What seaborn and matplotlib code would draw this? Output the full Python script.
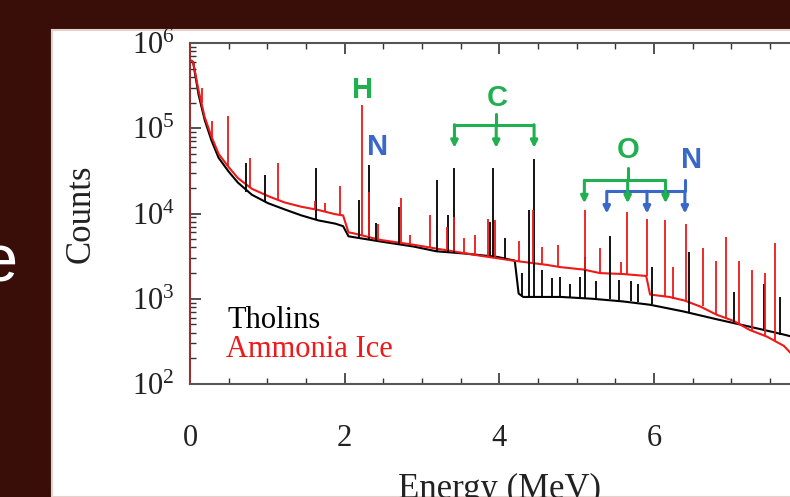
import pandas as pd
import matplotlib
matplotlib.use('Agg')
import matplotlib.pyplot as plt
import seaborn as sns
from matplotlib.patches import Rectangle
from matplotlib.ticker import LogLocator, MultipleLocator, NullFormatter

# continuum of each spectrum (energy in MeV, counts)
tholins_energy = [0.0, 0.04, 0.11, 0.19, 0.28, 0.37, 0.50, 0.62, 0.80, 1.01, 1.22, 1.44,
                  1.66, 1.88, 1.98, 2.05, 2.46, 2.89, 3.19, 3.54, 3.97, 4.20, 4.25, 4.31,
                  4.80, 5.20, 5.60, 5.95, 6.38, 6.81, 7.24, 7.68, 8.0]
tholins_counts = [630000, 600000, 250000, 125000, 71000, 45000, 31000, 23000, 16600, 13200,
                  11200, 9500, 8300, 7600, 7100, 5400, 4700, 4100, 3600, 3400, 3100, 2800,
                  1150, 1050, 1050, 1000, 930, 850, 710, 575, 470, 380, 320]

ammonia_energy = [0.0, 0.04, 0.11, 0.19, 0.28, 0.37, 0.50, 0.62, 0.80, 1.01, 1.22, 1.44,
                  1.66, 1.88, 1.98, 2.05, 2.10, 2.46, 2.89, 3.32, 3.75, 4.18, 4.61, 4.79,
                  5.09, 5.30, 5.60, 5.90, 5.95, 6.20, 6.40, 6.60, 6.81, 7.03, 7.24, 7.46,
                  7.68, 7.76, 8.0]
ammonia_counts = [630000, 600000, 280000, 135000, 79000, 50000, 35000, 26000, 19500, 16000,
                  13500, 12000, 11000, 9800, 9500, 6000, 5900, 4900, 4300, 3700, 3200, 2800,
                  2500, 2350, 2200, 2000, 1950, 1850, 1120, 1050, 950, 810, 650, 550, 430,
                  360, 280, 235, 180]

# gamma-ray peaks: energy, counts under the peak, counts at the top
tholins_peak_energy = [0.72, 0.97, 1.63, 2.18, 2.32, 2.41, 2.70, 3.20, 3.34, 3.42, 3.88,
                       3.92, 4.07, 4.29, 4.38, 4.45, 4.55, 4.68, 4.79, 4.92, 5.05, 5.11,
                       5.25, 5.43, 5.55, 5.70, 5.80, 5.97, 6.45, 7.03, 7.42, 7.63]
tholins_peak_base = [18000, 13500, 8500, 5200, 5000, 4900, 4400, 3600, 3500, 3450, 3150,
                     3100, 2950, 1050, 1050, 1050, 1050, 1050, 1050, 1050, 1000, 1000,
                     1000, 980, 960, 940, 920, 860, 700, 540, 430, 380]
tholins_peak_top = [39000, 28000, 34000, 14500, 37000, 7800, 12000, 24500, 9500, 34000,
                    8000, 34000, 5100, 2000, 11000, 43000, 2200, 1750, 1800, 1500, 1800,
                    3100, 1600, 5400, 1650, 1600, 1500, 2350, 3500, 1200, 1500, 1050]

ammonia_peak_energy = [0.15, 0.28, 0.49, 0.78, 1.14, 1.62, 1.75, 1.94, 2.22, 2.32, 2.43,
                       2.73, 2.85, 3.10, 3.32, 3.42, 3.54, 3.69, 3.86, 3.95, 4.26, 4.44,
                       4.55, 4.76, 5.11, 5.30, 5.58, 5.65, 5.91, 6.14, 6.25, 6.41, 6.64,
                       6.80, 6.93, 7.10, 7.27, 7.43, 7.57]
ammonia_peak_base = [200000, 79000, 36000, 20000, 14500, 11000, 10500, 9700, 5500, 5300,
                     5000, 4500, 4350, 4000, 3700, 3600, 3450, 3250, 3100, 3050, 2750,
                     2650, 2550, 2400, 2200, 2000, 1950, 1950, 1850, 1060, 1000, 940, 830,
                     660, 600, 510, 420, 370, 320]
ammonia_peak_top = [295000, 123000, 141000, 45000, 39000, 14000, 13200, 21000, 186000,
                    17800, 7600, 15000, 5600, 9500, 6900, 9100, 5100, 5600, 8700, 8300,
                    4700, 11000, 4000, 4300, 11000, 3900, 2700, 10500, 8700, 8300, 2350,
                    7600, 3900, 2800, 5300, 2800, 2200, 2000, 4500]

# line identifications
h_line = 2.23
n_line = 2.32
c_lines = [3.42, 3.96, 4.45]
o_lines = [5.10, 5.66, 6.15]
n_lines = [5.39, 5.91, 6.40]

sns.set_style('ticks')
plt.rcParams['font.family'] = ['Liberation Serif', 'DejaVu Serif']
plt.rcParams['mathtext.fontset'] = 'custom'
plt.rcParams['mathtext.rm'] = 'Liberation Serif'

GREEN = '#20b050'
BLUE = '#3a68c8'
RED = '#f01818'

fig = plt.figure(figsize=(7.9, 4.97), dpi=100, facecolor='#3a0e08')
fig.patches.append(Rectangle((52 / 790, 0), 1, 467 / 497, transform=fig.transFigure,
                             facecolor='white', edgecolor='#e6d2cc', lw=1.5, zorder=-5))
fig.text(17 / 790, 1 - 281 / 497, 'e', color='white', fontsize=48,
         family='Liberation Sans', ha='right', va='baseline')

ax = fig.add_axes([190 / 790, 113 / 497, 618.6 / 790, 341 / 497])
ax.set_zorder(2)
ax.set_facecolor('white')

df = pd.concat([
    pd.DataFrame({'Energy': tholins_energy, 'Counts': tholins_counts, 'sample': 'Tholins'}),
    pd.DataFrame({'Energy': ammonia_energy, 'Counts': ammonia_counts, 'sample': 'Ammonia Ice'}),
])
sns.lineplot(data=df, x='Energy', y='Counts', hue='sample',
             palette={'Tholins': 'black', 'Ammonia Ice': RED},
             estimator=None, sort=False, lw=1.5, legend=False, ax=ax)
ax.vlines(tholins_peak_energy, tholins_peak_base, tholins_peak_top, color='black', lw=1.3)
ax.vlines(ammonia_peak_energy, ammonia_peak_base, ammonia_peak_top, color=RED, lw=1.3)

ax.set_yscale('log')
ax.set_xlim(0, 8)
ax.set_ylim(100, 1e6)


def arrows(lines, y_bar, y_tip, color):
    ax.plot([lines[0], lines[-1]], [y_bar, y_bar], color=color, lw=2.2,
            solid_capstyle='butt')
    for e in lines:
        ax.annotate('', xy=(e, y_tip), xytext=(e, y_bar),
                    arrowprops=dict(arrowstyle='-|>', color=color, lw=2.2,
                                    mutation_scale=10, shrinkA=0, shrinkB=0))


arrows(c_lines, 110000, 59000, GREEN)
ax.plot([c_lines[1], c_lines[1]], [110000, 148000], color=GREEN, lw=2.2)
arrows(n_lines, 18200, 10000, BLUE)
ax.plot([n_lines[-1], n_lines[-1]], [18200, 24500], color=BLUE, lw=2.2)
arrows(o_lines, 24500, 13200, GREEN)
ax.plot([o_lines[1], o_lines[1]], [24500, 34000], color=GREEN, lw=2.2)

lab = dict(family='Liberation Sans', weight='bold', fontsize=21, ha='center', va='center')
ax.text(h_line, 282000, 'H', color=GREEN, **lab)
ax.text(n_line + 0.11, 60000, 'N', color=BLUE, **lab)
ax.text(c_lines[1] + 0.01, 229000, 'C', color=GREEN, **lab)
ax.text(o_lines[1], 55000, 'O', color=GREEN, **lab)
ax.text(n_lines[-1] + 0.09, 42700, 'N', color=BLUE, **lab)

ax.text(0.061, 0.164, 'Tholins', color='black', fontsize=22, transform=ax.transAxes,
        va='baseline')
ax.text(0.059, 0.079, 'Ammonia Ice', color=RED, fontsize=22, transform=ax.transAxes,
        va='baseline')

ax.xaxis.set_major_locator(MultipleLocator(2))
ax.xaxis.set_minor_locator(MultipleLocator(0.5))
ax.yaxis.set_major_locator(LogLocator(base=10))
ax.yaxis.set_minor_locator(LogLocator(base=10, subs=range(2, 10)))
ax.yaxis.set_minor_formatter(NullFormatter())
ax.tick_params(which='both', direction='in', top=True, right=True, colors='#333333',
               labelcolor='#222222', labelsize=22)
ax.tick_params(which='major', length=8, width=1.2)
ax.tick_params(which='minor', length=4, width=1)
ax.tick_params(axis='x', pad=29)
ax.tick_params(axis='y', pad=11)
for s in ax.spines.values():
    s.set_color('#555555')
    s.set_linewidth(1.5)
ax.spines['left'].set_color('#9a3030')

ax.set_xlabel('Energy (MeV)', fontsize=25, color='#222222')
ax.set_ylabel('Counts', fontsize=25, color='#222222')
ax.xaxis.set_label_coords(0.5, -0.26)
ax.yaxis.set_label_coords(-0.149, 0.5)

fig.savefig('out.png', dpi=100, facecolor=fig.get_facecolor())
